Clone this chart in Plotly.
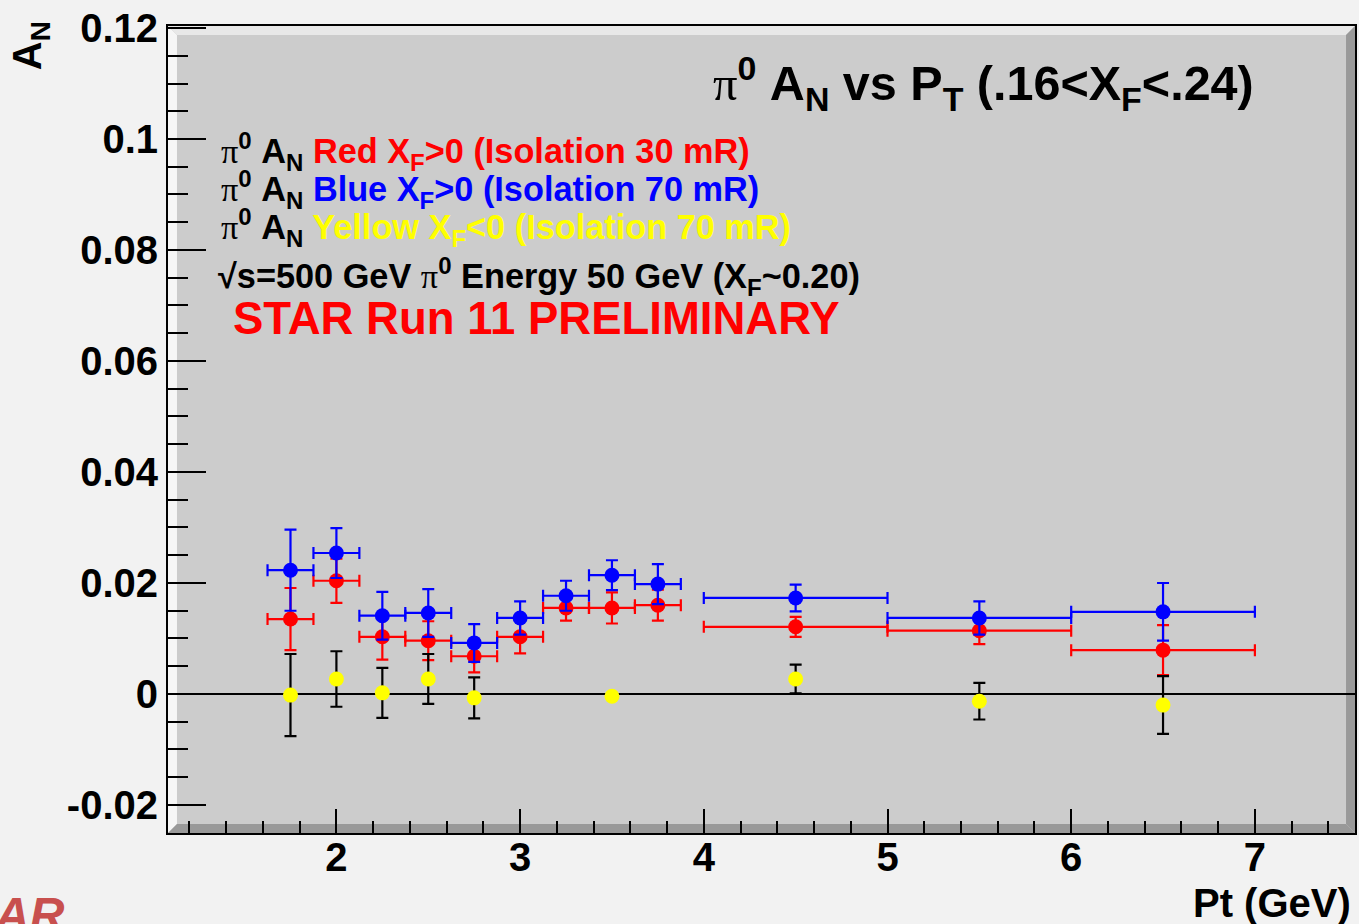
import plotly.graph_objects as go

# ---------------- data ----------------
pt = [1.75, 2.0, 2.25, 2.5, 2.75, 3.0, 3.25, 3.5, 3.75, 4.5, 5.5, 6.5]
pt_halfbin = [0.125, 0.125, 0.125, 0.125, 0.125, 0.125, 0.125, 0.125, 0.125, 0.5, 0.5, 0.5]

red_an = [0.0135, 0.0204, 0.0103, 0.0096, 0.0068, 0.0103, 0.0155, 0.0155, 0.0160, 0.0121, 0.0114, 0.0079]
red_err = [0.0056, 0.0040, 0.0041, 0.0035, 0.0029, 0.0030, 0.0023, 0.0028, 0.0028, 0.0018, 0.0024, 0.0045]

blue_an = [0.0223, 0.0254, 0.0141, 0.0146, 0.0092, 0.0137, 0.0177, 0.0214, 0.0198, 0.0173, 0.0137, 0.0148]
blue_err = [0.0073, 0.0045, 0.0043, 0.0043, 0.0034, 0.0030, 0.0027, 0.0027, 0.0036, 0.0024, 0.0030, 0.0052]

yellow_pt = [1.75, 2.0, 2.25, 2.5, 2.75, 3.5, 4.5, 5.5, 6.5]
yellow_an = [-0.0002, 0.0027, 0.0002, 0.0027, -0.0007, -0.0004, 0.0027, -0.0013, -0.0020]
yellow_err = [0.0074, 0.0050, 0.0045, 0.0045, 0.0037, 0.0, 0.0026, 0.0033, 0.0052]

x_tickvals = [2, 3, 4, 5, 6, 7]
x_ticktext = ["2", "3", "4", "5", "6", "7"]
y_tickvals = [-0.02, 0, 0.02, 0.04, 0.06, 0.08, 0.1, 0.12]
y_ticktext = ["-0.02", "0", "0.02", "0.04", "0.06", "0.08", "0.1", "0.12"]

# ---------------- layout geometry ----------------
W, H = 1359, 924
L, R, T, B = 168, 1357, 26, 833
XR = [1.0832, 7.545]
YR = [-0.02505, 0.12036]
FONT = "Liberation Sans, Arial, Helvetica, sans-serif"
PI = "<span style='font-family:Liberation Serif;font-weight:normal'>π</span>"


def px(xp):
    return (xp - L) / (R - L)


def py(yp):
    return (B - yp) / (B - T)


fig = go.Figure()

fig.add_trace(go.Scatter(
    x=pt, y=red_an, mode="markers",
    marker=dict(color="#ff0000", size=15, symbol="circle", line=dict(width=0)),
    error_y=dict(type="data", array=red_err, color="#ff0000", thickness=2.2, width=6),
    error_x=dict(type="data", array=pt_halfbin, color="#ff0000", thickness=2.2, width=6),
    showlegend=False,
))
fig.add_trace(go.Scatter(
    x=pt, y=blue_an, mode="markers",
    marker=dict(color="#0000ff", size=15, symbol="circle", line=dict(width=0)),
    error_y=dict(type="data", array=blue_err, color="#0000ff", thickness=2.2, width=6),
    error_x=dict(type="data", array=pt_halfbin, color="#0000ff", thickness=2.2, width=6),
    showlegend=False,
))
fig.add_trace(go.Scatter(
    x=yellow_pt, y=yellow_an, mode="markers",
    marker=dict(color="#ffff00", size=15, symbol="circle", line=dict(width=0)),
    error_y=dict(type="data", array=yellow_err, color="#000000", thickness=2.2, width=6),
    showlegend=False,
))

light = "#f6f6f6"
dark = "#999999"
bw = 9  # bevel width in px
shapes = [
    dict(type="path", xref="paper", yref="paper", layer="below", line=dict(width=0), fillcolor=light,
         path=f"M {px(L)} {py(B)} L {px(L)} {py(T)} L {px(L+bw)} {py(T+bw)} L {px(L+bw)} {py(B-bw)} Z"),
    dict(type="path", xref="paper", yref="paper", layer="below", line=dict(width=0), fillcolor="#e8e8e8",
         path=f"M {px(L)} {py(T)} L {px(R)} {py(T)} L {px(R-bw)} {py(T+bw)} L {px(L+bw)} {py(T+bw)} Z"),
    dict(type="path", xref="paper", yref="paper", layer="below", line=dict(width=0), fillcolor=dark,
         path=f"M {px(R)} {py(T)} L {px(R)} {py(B)} L {px(R-bw)} {py(B-bw)} L {px(R-bw)} {py(T+bw)} Z"),
    dict(type="path", xref="paper", yref="paper", layer="below", line=dict(width=0), fillcolor=dark,
         path=f"M {px(L)} {py(B)} L {px(R)} {py(B)} L {px(R-bw)} {py(B-bw)} L {px(L+bw)} {py(B-bw)} Z"),
    dict(type="line", xref="paper", yref="y", x0=0, x1=1, y0=0, y1=0, layer="below",
         line=dict(color="black", width=2)),
]

ann = []


def text(xp, yp, s, size, color="black", xanchor="left", angle=0, italic=False):
    t = f"<b>{s}</b>"
    if italic:
        t = f"<i>{t}</i>"
    ann.append(dict(x=px(xp), y=py(yp), xref="paper", yref="paper", text=t, showarrow=False,
                    xanchor=xanchor, yanchor="middle", textangle=angle,
                    font=dict(family=FONT, size=size, color=color)))


text(1258, 83, f"{PI}<sup>0</sup> A<sub>N</sub> vs P<sub>T</sub> (.16&lt;X<sub>F</sub>&lt;.24)", 48.5, xanchor="right")
text(219, 151, f"{PI}<sup>0</sup> A<sub>N</sub> <span style='color:#ff0000'>Red X<sub>F</sub>&gt;0 (Isolation 30 mR)</span>", 34.3)
text(219, 189, f"{PI}<sup>0</sup> A<sub>N</sub> <span style='color:#0000ff'>Blue X<sub>F</sub>&gt;0 (Isolation 70 mR)</span>", 34.3)
text(219, 227, f"{PI}<sup>0</sup> A<sub>N</sub> <span style='color:#ffff00'>Yellow X<sub>F</sub>&lt;0 (Isolation 70 mR)</span>", 34.3)
text(216, 276, f"√s=500 GeV {PI}<sup>0</sup> Energy 50 GeV (X<sub>F</sub>~0.20)", 34.3)
text(231, 318, "STAR Run 11 PRELIMINARY", 45.5, color="#ff0000")
text(1355, 903, "Pt (GeV)", 40, xanchor="right")
text(30, 46, "A<sub>N</sub>", 40, xanchor="center", angle=-90)
text(-8, 914, "AR", 48, color="#c8504e", italic=True)

fig.update_layout(
    width=W, height=H,
    margin=dict(l=L, r=W - R, t=T, b=H - B, pad=0),
    paper_bgcolor="#f2f2f2",
    plot_bgcolor="#cccccc",
    shapes=shapes,
    annotations=ann,
    showlegend=False,
    xaxis=dict(
        range=XR, showgrid=False, zeroline=False,
        showline=True, linecolor="black", linewidth=2, mirror=True,
        ticks="inside", ticklen=24, tickwidth=2, tickcolor="black",
        tickvals=x_tickvals, ticktext=x_ticktext, ticklabelstandoff=-12,
        tickfont=dict(family=FONT, size=40, color="black", weight="bold"),
        minor=dict(ticks="inside", ticklen=12, tickwidth=2, tickcolor="black", dtick=0.2, tick0=0, showgrid=False),
    ),
    yaxis=dict(
        range=YR, showgrid=False, zeroline=False,
        showline=True, linecolor="black", linewidth=2, mirror=True,
        ticks="inside", ticklen=38, tickwidth=2, tickcolor="black",
        tickvals=y_tickvals, ticktext=y_ticktext,
        tickfont=dict(family=FONT, size=40, color="black", weight="bold"),
        minor=dict(ticks="inside", ticklen=20, tickwidth=2, tickcolor="black", dtick=0.005, tick0=0, showgrid=False),
    ),
)

fig.write_html("out.html", config={"displayModeBar": False},
               post_script="document.body.style.margin='0';document.body.style.overflow='hidden';")
